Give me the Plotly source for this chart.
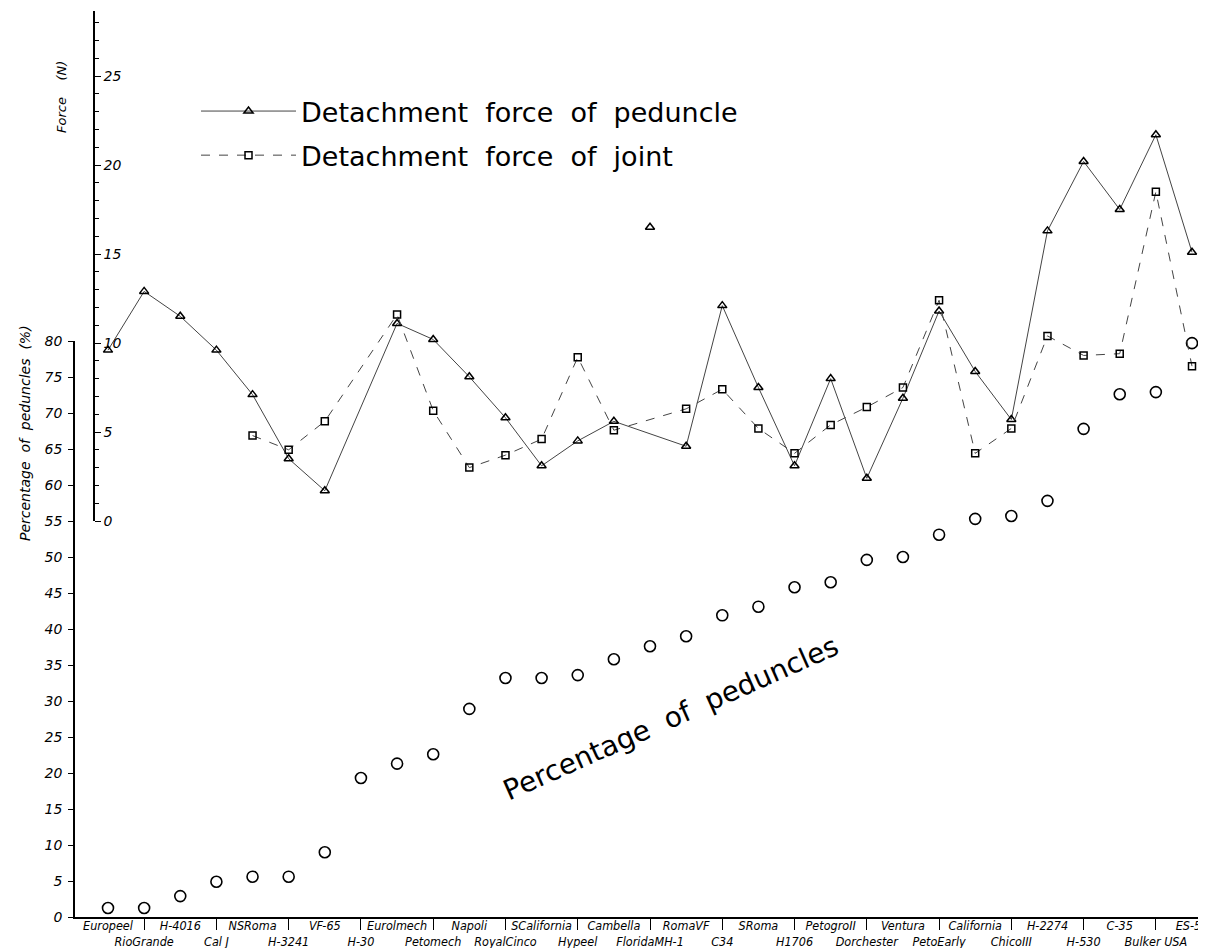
import plotly.graph_objects as go

categories = ["Europeel", "RioGrande", "H-4016", "Cal J", "NSRoma", "H-3241", "VF-65", "H-30",
              "Eurolmech", "Petomech", "Napoli", "RoyalCinco", "SCalifornia", "Hypeel", "Cambella",
              "FloridaMH-1", "RomaVF", "C34", "SRoma", "H1706", "PetogroII", "Dorchester", "Ventura",
              "PetoEarly", "California", "ChicoIII", "H-2274", "H-530", "C-35", "Bulker USA", "ES-58"]

pct_peduncles = [1.25, 1.25, 2.9, 4.9, 5.6, 5.6, 9.0, 19.3, 21.3, 22.6, 28.9, 33.2, 33.2, 33.6, 35.8,
                 37.6, 39.0, 41.9, 43.1, 45.8, 46.5, 49.6, 50.0, 53.1, 55.3, 55.7, 57.8, 67.8, 72.6,
                 72.9, 79.7]

force_peduncle = [9.6, 12.9, 11.5, 9.6, 7.1, 3.5, 1.7, None, 11.1, 10.2, 8.1, 5.8, 3.1, 4.5, 5.6,
                  16.5, 4.2, 12.1, 7.5, 3.1, 8.0, 2.4, 6.9, 11.8, 8.4, 5.7, 16.3, 20.2, 17.5, 21.7, 15.1]

force_joint = [None, None, None, None, 4.8, 4.0, 5.6, None, 11.6, 6.2, 3.0, 3.7, 4.6, 9.2, 5.1,
               None, 6.3, 7.4, 5.2, 3.8, 5.4, 6.4, 7.5, 12.4, 3.8, 5.2, 10.4, 9.3, 9.4, 18.5, 8.7]

# the FloridaMH-1 peduncle value is drawn as an isolated point, not joined by the line
isolated = ["FloridaMH-1"]

pct_ticks = list(range(0, 81, 5))
force_ticks = list(range(0, 26, 5))

idx = list(range(len(categories)))
line_x = [i for i in idx if categories[i] not in isolated and force_peduncle[i] is not None]
line_y = [force_peduncle[i] for i in line_x]
iso_x = [i for i in idx if categories[i] in isolated]
iso_y = [force_peduncle[i] for i in iso_x]

ticktext = [c if i % 2 == 0 else " <br>" + c for i, c in enumerate(categories)]

FONT = "DejaVu Sans"
NARROW = "Liberation Sans Narrow, DejaVu Sans Condensed, Liberation Sans, sans-serif"

fig = go.Figure()

fig.add_trace(go.Scatter(
    x=idx, y=pct_peduncles, mode="markers", yaxis="y", showlegend=False,
    marker=dict(symbol="circle-open", size=11, color="black", line=dict(width=1.6)),
    cliponaxis=False))

fig.add_trace(go.Scatter(
    x=line_x, y=line_y, mode="lines+markers", yaxis="y2",
    name="Detachment  force  of  peduncle", legendgroup="a",
    line=dict(color="#444444", width=1),
    marker=dict(symbol="triangle-up-open", size=8, color="black", line=dict(width=1.5)),
    cliponaxis=False))

fig.add_trace(go.Scatter(
    x=iso_x, y=iso_y, mode="markers", yaxis="y2", showlegend=False, legendgroup="a",
    marker=dict(symbol="triangle-up-open", size=8, color="black", line=dict(width=1.5)),
    cliponaxis=False))

fig.add_trace(go.Scatter(
    x=idx, y=force_joint, mode="lines+markers", yaxis="y2", connectgaps=True,
    name="Detachment  force  of  joint", legendgroup="b",
    line=dict(color="#444444", width=1, dash="dash"),
    marker=dict(symbol="square-open", size=7, color="black", line=dict(width=1.5)),
    cliponaxis=False))

W, H = 1206, 948
L, R, B, T = 67, 11, 39, 3
pw = W - L - R
ph = H - T - B
xstep = 36.13
x_lo = -(100 - L) / xstep
x_hi = (len(categories) - 1) + (W - R - 1184) / xstep

pct_top_px = 333
force0_px = 513
force_px_per = 17.8

fig.update_layout(
    width=W, height=H,
    margin=dict(l=L, r=R, t=T, b=B, autoexpand=False),
    plot_bgcolor="rgba(0,0,0,0)", paper_bgcolor="white",
    font=dict(family=FONT, color="black"),
    xaxis=dict(
        range=[x_lo, x_hi], tickmode="array", tickvals=idx, ticktext=ticktext,
        ticks="", showgrid=False, zeroline=False, showline=True, linecolor="black", linewidth=2,
        tickfont=dict(size=12.5, style="italic", family=NARROW), tickangle=0,
        ticklabelstandoff=-4, automargin=False,
        minor=dict(tickmode="array", tickvals=[i for i in idx if i % 2 == 1],
                   ticks="outside", ticklen=11, tickcolor="black", tickwidth=1.2),
    ),
    yaxis=dict(
        domain=[0, (H - B - pct_top_px) / ph], range=[0, 80], automargin=False,
        tickmode="array", tickvals=pct_ticks, ticks="outside", ticklen=5, tickwidth=1.2,
        tickcolor="black", showgrid=False, zeroline=False, showline=True,
        linecolor="black", linewidth=1.6, tickfont=dict(size=14, style="italic"),
        ticklabelstandoff=3,
    ),
    yaxis2=dict(
        domain=[(H - B - force0_px) / ph, 1.0],
        range=[0, (force0_px - T) / force_px_per], automargin=False,
        anchor="free", position=(86 - L) / pw, side="right",
        tickmode="array", tickvals=force_ticks, ticks="outside", ticklen=6, tickwidth=1.2,
        tickcolor="black", showgrid=False, zeroline=False, showline=True,
        linecolor="black", linewidth=1.6, tickfont=dict(size=14, style="italic"),
        minor=dict(dtick=1, ticks="outside", ticklen=4, tickcolor="black"),
    ),
    legend=dict(
        x=(188 - L) / pw, y=1 - (79 - T) / ph, xanchor="left", yanchor="top",
        font=dict(size=27, family=FONT), itemwidth=95, tracegroupgap=6,
        bgcolor="rgba(0,0,0,0)",
    ),
    annotations=[
        dict(text="Percentage  of  peduncles  (%)", xref="paper", yref="paper",
             x=-(L - 17) / pw, y=(H - B - 425) / ph, textangle=-90, showarrow=False,
             font=dict(size=14, style="italic"), xanchor="center", yanchor="middle"),
        dict(text="Force    (N)", xref="paper", yref="paper",
             x=-(L - 53) / pw, y=(H - B - 89) / ph, textangle=-90, showarrow=False,
             font=dict(size=13, style="italic"), xanchor="center", yanchor="middle"),
        dict(text="Percentage  of  peduncles", xref="paper", yref="paper",
             x=(662 - L) / pw, y=(H - B - 710) / ph, textangle=-24, showarrow=False,
             font=dict(size=28), xanchor="center", yanchor="middle"),
    ],
)

fig.write_html("out.html")
